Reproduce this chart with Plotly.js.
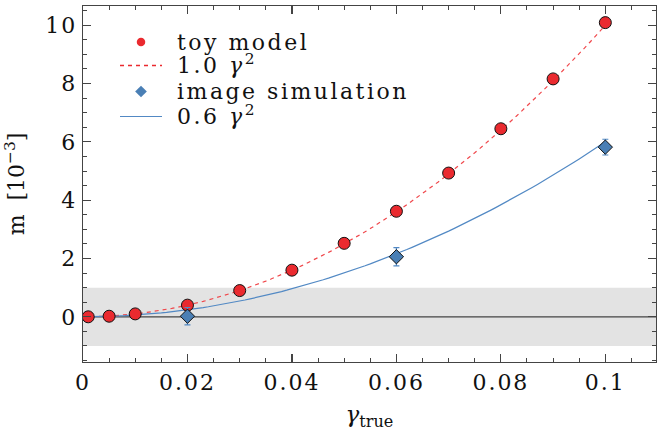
<!DOCTYPE html>
<html>
<head>
<meta charset="utf-8">
<script src="https://cdn.plot.ly/plotly-3.0.1.min.js"></script>
<style>
html,body{margin:0;padding:0;background:#fff;}
#chart{width:657px;height:435px;}
.xtick text, .ytick text{letter-spacing:2px;}
.annotation-text.leg{letter-spacing:2.5px;}
</style>
</head>
<body>
<div id="chart"></div>
<script>
// toy model measurements
const toyX = [0.001, 0.005, 0.01, 0.02, 0.03, 0.04, 0.05, 0.06, 0.07, 0.08, 0.09, 0.1];
const toyY = [0.0, 0.02, 0.1, 0.4, 0.9, 1.6, 2.52, 3.62, 4.93, 6.45, 8.16, 10.09];
// image simulation measurements
const simX = [0.02, 0.06, 0.1];
const simY = [0.02, 2.06, 5.82];
const simErr = [0.3, 0.31, 0.27];
// fitted model coefficients (m = a * gamma^2, in units of 1e-3)
const fitCoeffs = [1.0, 0.6];
const fitLabels = ['1.0 <i>γ</i><sup>2</sup>', '0.6 <i>γ</i><sup>2</sup>'];
const seriesLabels = ['toy model', 'image simulation'];
// tolerance band
const bandY = [-1, 1];
const xTickVals = [0, 0.02, 0.04, 0.06, 0.08, 0.1];
const xTickText = ['0', '0.02', '0.04', '0.06', '0.08', '0.1'];
const yTickVals = [0, 2, 4, 6, 8, 10];

const red = '#ea2a2f', redLine = '#f0484c', blue = '#4a7fb5', blueLine = '#5289c4';

function curve(a) {
  const xs = [], ys = [];
  for (let i = 0; i <= 100; i++) { const g = 0.1 * i / 100; xs.push(g); ys.push(a * g * g * 1000); }
  return {xs, ys};
}
const c1 = curve(fitCoeffs[0]), c2 = curve(fitCoeffs[1]);

// plot area in pixels (for the hand-made legend)
const PL = 83, PR = 656, PT = 6, PB = 362;
const px = v => (v - PL) / (PR - PL);
const py = v => (PB - v) / (PB - PT);
const legRows = [42, 65.5, 91.5, 116.5];
const legSymX = 141, legLine = [120, 162], legTextX = 176;

const font = 'DejaVu Serif, serif';
const traces = [
  {x: [0, 0.2], y: [0, 0], mode: 'lines', line: {color: '#444', width: 1.3}, showlegend: false, hoverinfo: 'skip'},
  {x: c1.xs, y: c1.ys, mode: 'lines', name: fitLabels[0], line: {color: redLine, width: 1.2, dash: '4px,4px'}, showlegend: false},
  {x: c2.xs, y: c2.ys, mode: 'lines', name: fitLabels[1], line: {color: blueLine, width: 1.2}, showlegend: false},
  {x: toyX, y: toyY, mode: 'markers', name: seriesLabels[0], marker: {symbol: 'circle', size: 12, color: red, line: {color: '#111', width: 1}}, showlegend: false},
  {x: simX, y: simY, mode: 'markers', name: seriesLabels[1], marker: {symbol: 'diamond', size: 11, color: blue, line: {color: '#111', width: 1}},
   error_y: {type: 'data', array: simErr, color: blueLine, thickness: 1.2, width: 3}, showlegend: false},
  // legend keys, drawn on an overlay axis spanning the plot area [0,1]
  {x: [px(legSymX)], y: [py(legRows[0])], xaxis: 'x2', yaxis: 'y2', mode: 'markers', showlegend: false,
   marker: {symbol: 'circle', size: 8.5, color: red}},
  {x: [px(legLine[0]), px(legLine[1])], y: [py(legRows[1]), py(legRows[1])], xaxis: 'x2', yaxis: 'y2', mode: 'lines', showlegend: false,
   line: {color: red, width: 1.4, dash: '4px,4px'}},
  {x: [px(legSymX)], y: [py(legRows[2])], xaxis: 'x2', yaxis: 'y2', mode: 'markers', showlegend: false,
   marker: {symbol: 'diamond', size: 9, color: blue}},
  {x: [px(legLine[0]), px(legLine[1])], y: [py(legRows[3]), py(legRows[3])], xaxis: 'x2', yaxis: 'y2', mode: 'lines', showlegend: false,
   line: {color: blueLine, width: 1.2}}
];

const shapes = [
  {type: 'rect', xref: 'paper', x0: 0, x1: 1, yref: 'y', y0: bandY[0], y1: bandY[1],
   fillcolor: '#e3e3e3', line: {width: 0}, layer: 'below'}
];

const legLabels = [seriesLabels[0], fitLabels[0], seriesLabels[1], fitLabels[1]];
const annotations = legLabels.map((t, i) => ({
  text: t, xref: 'paper', yref: 'paper', x: px(legTextX), y: py(legRows[i] + (i % 2 ? -2 : 0)),
  xanchor: 'left', yanchor: 'middle', showarrow: false, align: 'left',
  font: {family: font, size: 22, color: '#111'}, borderpad: 0
}));

const axisCommon = {
  showgrid: false, zeroline: false, showline: true, linecolor: '#444', linewidth: 1.3,
  ticks: 'inside', mirror: 'allticks', tickcolor: '#444', tickwidth: 1.2, ticklen: 8,
  tickfont: {family: font, size: 22, color: '#111'}
};

const layout = {
  width: 657, height: 435,
  margin: {l: PL, r: 657 - PR, t: PT, b: 435 - PB},
  paper_bgcolor: '#fff', plot_bgcolor: '#fff',
  font: {family: font, color: '#111'},
  showlegend: false,
  shapes: shapes,
  annotations: annotations,
  xaxis: Object.assign({}, axisCommon, {
    range: [0, 0.1097], tickmode: 'array', tickvals: xTickVals, ticktext: xTickText,
    minor: {ticks: 'inside', dtick: 0.005, ticklen: 4, tickcolor: '#444', tickwidth: 1},
    title: {text: '<i>γ</i><sub>true</sub>', font: {family: font, size: 23, color: '#111'}, standoff: 12}
  }),
  yaxis: Object.assign({}, axisCommon, {
    range: [-1.55, 10.66], tickmode: 'array', tickvals: yTickVals,
    minor: {ticks: 'inside', dtick: 0.5, ticklen: 4, tickcolor: '#444', tickwidth: 1},
    title: {text: 'm  [10<sup>−3</sup>]', font: {family: font, size: 22, color: '#111'}, standoff: 14}
  }),
  xaxis2: {overlaying: 'x', range: [0, 1], visible: false, fixedrange: true},
  yaxis2: {overlaying: 'y', range: [0, 1], visible: false, fixedrange: true}
};

Plotly.newPlot('chart', traces, layout, {displayModeBar: false, staticPlot: true}).then(() => {
  document.querySelectorAll('.annotation-text').forEach(el => el.classList.add('leg'));
});
</script>
</body>
</html>
